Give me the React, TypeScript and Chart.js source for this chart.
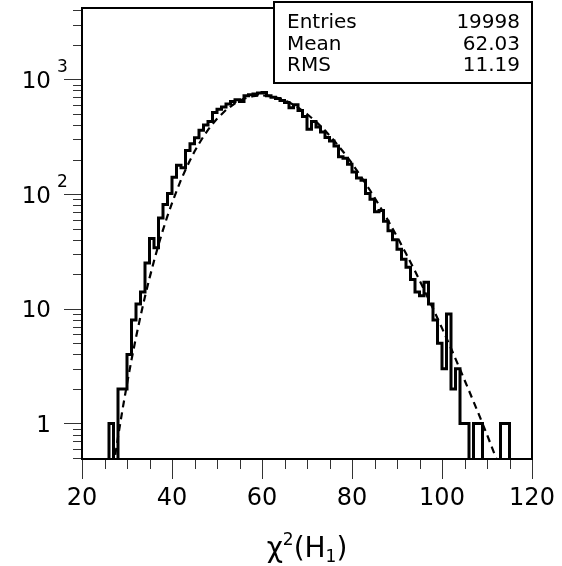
import React, { useEffect, useRef } from "react";
import { Chart, registerables } from "chart.js";

Chart.register(...registerables);

// ---------- data ----------
const X_MIN = 20;
const X_MAX = 120;
const BIN_WIDTH = 1;
const Y_MIN = 0.49;
const Y_MAX = 4190;

// counts per bin, bins [20,21), [21,22), ... [119,120)
const binCounts = [
  // 20-29
  0, 0, 0, 0, 0, 0, 0, 1, 0, 2,
  // 30-39
  2, 4, 8, 11, 14, 25, 41, 34, 62, 81,
  // 40-49
  101, 140, 178, 170, 240, 275, 310, 360, 400, 430,
  // 50-59
  515, 550, 575, 610, 640, 665, 640, 720, 735, 745,
  // 60-69
  760, 770, 720, 700, 680, 655, 630, 565, 600, 535,
  // 70-79
  475, 368, 430, 385, 348, 312, 290, 262, 212, 205,
  // 80-89
  182, 156, 138, 132, 101, 90, 70, 72, 58, 48,
  // 90-99
  40, 33, 27, 23, 18, 14, 13, 17, 11, 8,
  // 100-109
  5, 3, 9, 2, 3, 1, 1, 0, 1, 1,
  // 110-119
  0, 0, 0, 0, 1, 1, 0, 0, 0, 0,
];

// dashed fit curve
const fitX = [
  27, 28, 29, 30, 31, 32, 33, 34, 35, 36, 37, 38, 39, 40, 41, 42, 43, 44, 45, 46, 47, 48, 49, 50,
  52, 54, 56, 58, 60, 62, 64, 66, 68, 70, 72, 74, 76, 78, 80, 82, 84, 86, 88, 90, 92, 94, 96, 98,
  100, 102, 104, 106, 108, 110, 112, 113,
];
const fitY = [
  0.42, 0.76, 1.32, 2.21, 3.59, 5.64, 8.61, 12.8, 18.5, 26.1, 36.1, 48.7, 64.5, 83.5, 106, 133, 163, 197,
  235, 275, 318, 363, 408, 454,
  541, 619, 679, 713, 726, 714, 682, 632, 569, 499, 428, 358, 293, 235, 185, 142, 108, 80.4, 59.0, 42.6,
  30.3, 21.3, 14.7, 10.05,
  6.78, 4.52, 2.97, 1.93, 1.25, 0.8, 0.5, 0.4,
];

const X_MAJOR_TICKS = [20, 40, 60, 80, 100, 120];
const X_MINOR_STEP = 5;
const Y_DECADES = [1, 10, 100, 1000];
const Y_LABEL_BASE = ["1", "10", "10", "10"];
const Y_LABEL_EXP = ["", "", "2", "3"];
const Y_MINOR_DECADES = [0.1, 1, 10, 100, 1000];
const Y_MINOR_MULTS = [2, 3, 4, 5, 6, 7, 8, 9];

const STAT_NAMES = ["Entries", "Mean", "RMS"];
const STAT_VALUES = ["19998", "62.03", "11.19"];

const FONT = '"DejaVu Sans", "Liberation Sans", sans-serif';

const rootPlugin = {
  id: "rootFrame",
  afterDraw(chart: any) {
    const { ctx, chartArea: a } = chart;
    const xs = chart.scales.x;
    const ys = chart.scales.y;
    ctx.save();

    // frame
    ctx.strokeStyle = "#000";
    ctx.lineWidth = 2;
    ctx.strokeRect(a.left, a.top, a.right - a.left, a.bottom - a.top);

    // x ticks (below the axis)
    ctx.lineWidth = 1;
    ctx.strokeStyle = "#333";
    for (let v = X_MIN; v <= X_MAX + 1e-9; v += X_MINOR_STEP) {
      const px = Math.round(xs.getPixelForValue(v)) + 0.5;
      const major = X_MAJOR_TICKS.includes(v);
      ctx.beginPath();
      ctx.moveTo(px, a.bottom + 1);
      ctx.lineTo(px, a.bottom + (major ? 20 : 10));
      ctx.stroke();
    }
    // y ticks (left of the axis)
    Y_MINOR_DECADES.forEach((d) => {
      Y_MINOR_MULTS.forEach((m) => {
        const v = d * m;
        if (v < Y_MIN || v > Y_MAX) return;
        const py = Math.round(ys.getPixelForValue(v)) + 0.5;
        ctx.beginPath();
        ctx.moveTo(a.left - 1, py);
        ctx.lineTo(a.left - 9, py);
        ctx.stroke();
      });
    });
    Y_DECADES.forEach((v) => {
      const py = Math.round(ys.getPixelForValue(v)) + 0.5;
      ctx.beginPath();
      ctx.moveTo(a.left - 1, py);
      ctx.lineTo(a.left - 18, py);
      ctx.stroke();
    });

    // x labels
    ctx.fillStyle = "#000";
    ctx.font = `24px ${FONT}`;
    ctx.textAlign = "center";
    ctx.textBaseline = "alphabetic";
    X_MAJOR_TICKS.forEach((v) => {
      ctx.fillText(String(v), xs.getPixelForValue(v), a.bottom + 46);
    });

    // y labels
    Y_DECADES.forEach((v, i) => {
      const py = ys.getPixelForValue(v);
      ctx.font = `23px ${FONT}`;
      ctx.textAlign = "right";
      ctx.fillText(Y_LABEL_BASE[i], a.left - 31, py + 8.5);
      if (Y_LABEL_EXP[i]) {
        ctx.font = `17px ${FONT}`;
        ctx.textAlign = "left";
        ctx.fillText(Y_LABEL_EXP[i], a.left - 25, py - 7);
      }
    });

    // x title: chi^2(H_1)
    const parts = [
      { t: "χ", size: 28, dy: 0 },
      { t: "2", size: 17, dy: -12 },
      { t: "(H", size: 28, dy: 0 },
      { t: "1", size: 17, dy: 5 },
      { t: ")", size: 28, dy: 0 },
    ];
    let total = 0;
    const widths = parts.map((p) => {
      ctx.font = `${p.size}px ${FONT}`;
      const w = ctx.measureText(p.t).width;
      total += w;
      return w;
    });
    let tx = (a.left + a.right) / 2 - total / 2;
    const baseY = a.bottom + 98;
    ctx.textAlign = "left";
    parts.forEach((p, i) => {
      ctx.font = `${p.size}px ${FONT}`;
      ctx.fillText(p.t, tx, baseY + p.dy);
      tx += widths[i];
    });

    // stats box
    const bx = 274;
    const by = 2;
    const bw = a.right - bx;
    const bh = 81;
    ctx.fillStyle = "#fff";
    ctx.fillRect(bx, by, bw, bh);
    ctx.strokeStyle = "#000";
    ctx.lineWidth = 2;
    ctx.strokeRect(bx, by, bw, bh);
    ctx.fillStyle = "#000";
    ctx.font = `20px ${FONT}`;
    const rowGap = 21.5;
    STAT_NAMES.forEach((n, i) => {
      const y = by + 19 + rowGap * i + 7;
      ctx.textAlign = "left";
      ctx.fillText(n, bx + 13, y);
      ctx.textAlign = "right";
      ctx.fillText(STAT_VALUES[i], a.right - 12, y);
    });

    ctx.restore();
  },
};

export default function App() {
  const ref = useRef<HTMLCanvasElement>(null);
  useEffect(() => {
    const canvas = ref.current;
    if (!canvas) return;
    const zeroFloor = Y_MIN / 10;
    const histPoints = binCounts.map((c, i) => ({
      x: X_MIN + i * BIN_WIDTH,
      y: c > 0 ? c : zeroFloor,
    }));
    histPoints.push({ x: X_MIN + binCounts.length * BIN_WIDTH, y: zeroFloor });
    const fitPoints = fitX.map((x, i) => ({ x, y: fitY[i] }));

    const chart = new Chart(canvas, {
      type: "line",
      data: {
        datasets: [
          {
            label: "fit",
            data: fitPoints,
            borderColor: "#000",
            borderWidth: 2.2,
            borderDash: [7, 5],
            pointRadius: 0,
            fill: false,
            tension: 0,
          },
          {
            label: "hist",
            data: histPoints,
            stepped: "after",
            borderColor: "#000",
            borderWidth: 3,
            borderJoinStyle: "miter",
            pointRadius: 0,
            fill: false,
          },
        ],
      },
      options: {
        responsive: false,
        animation: false,
        events: [],
        layout: { padding: { left: 82, right: 30, top: 8, bottom: 107 } },
        scales: {
          x: { type: "linear", min: X_MIN, max: X_MAX, display: false },
          y: { type: "logarithmic", min: Y_MIN, max: Y_MAX, display: false },
        },
        plugins: { legend: { display: false }, tooltip: { enabled: false } },
      },
      plugins: [rootPlugin],
    } as any);
    return () => chart.destroy();
  }, []);

  return (
    <div style={{ position: "fixed", left: 0, top: 0, width: 562, height: 566, background: "#fff" }}>
      <canvas ref={ref} width={562} height={566} style={{ display: "block" }} />
    </div>
  );
}
